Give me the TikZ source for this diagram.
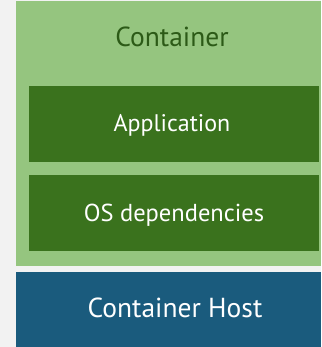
\documentclass[tikz,border=0pt]{standalone}
\usepackage{fontspec}
\setmainfont{PT Sans}
\definecolor{bg}{HTML}{F2F2F2}
\definecolor{lgreen}{HTML}{95C57F}
\definecolor{dgreen}{HTML}{3A721D}
\definecolor{hostblue}{HTML}{1A5B7D}
\definecolor{tgreen}{HTML}{2C5A17}
\begin{document}
\begin{tikzpicture}[x=1pt,y=-1pt,
  box/.style={draw=none, inner sep=0pt, outer sep=0pt, anchor=north west},
  lbl/.style={anchor=base, inner sep=0pt}]
\useasboundingbox (0,0) rectangle (321,347);
\fill[bg] (0,0) rectangle (321,347);
\node[box, fill=lgreen, minimum width=305pt, minimum height=265pt] (container) at (16,1) {};
\node[box, fill=dgreen, minimum width=290pt, minimum height=76pt] (app) at (29,86) {};
\node[box, fill=dgreen, minimum width=290pt, minimum height=76pt] (os) at (29,175) {};
\node[box, fill=hostblue, minimum width=305pt, minimum height=75pt] (host) at (16,272) {};
\node[lbl, text=tgreen, font=\fontsize{27.5}{32}\selectfont] (ctitle) at (172,46.5) {Container};
\node[lbl, text=white, font=\fontsize{24}{28}\selectfont] (apptext) at (172,132) {Application};
\node[lbl, text=white, font=\fontsize{24.5}{29}\selectfont] (ostext) at (174,221.5) {OS dependencies};
\node[lbl, text=white, font=\fontsize{27.5}{32}\selectfont] (hosttext) at (175,317.5) {Container Host};
\end{tikzpicture}
\end{document}
